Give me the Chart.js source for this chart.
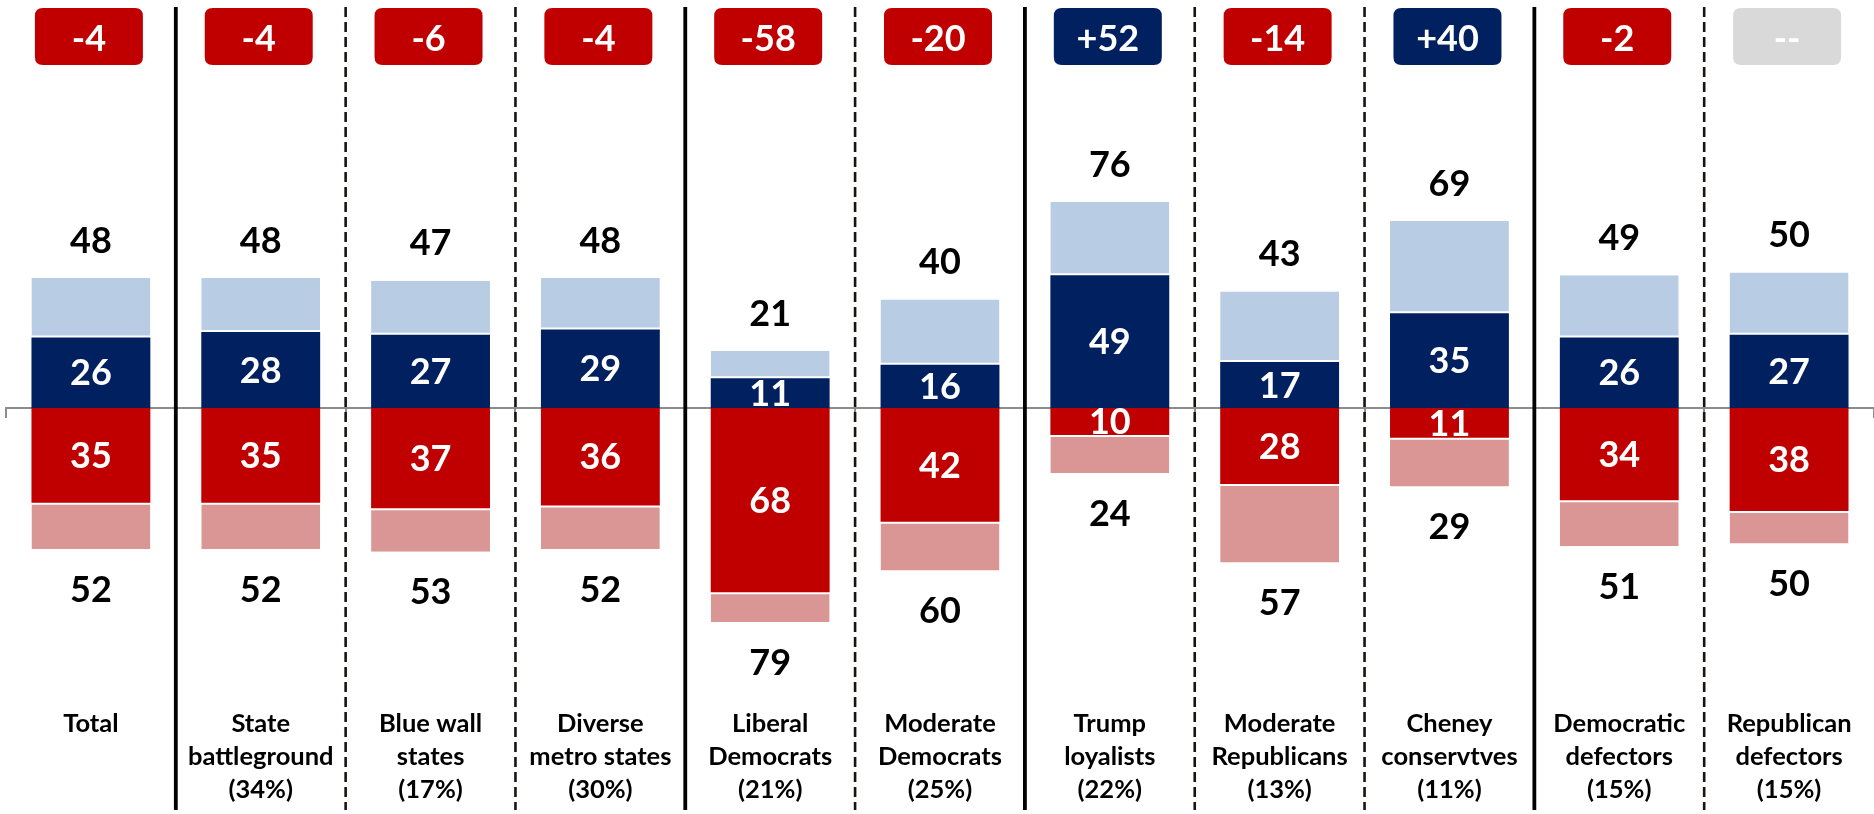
<!DOCTYPE html>
<html>
<head>
<meta charset="utf-8">
<script src="https://cdn.jsdelivr.net/npm/chart.js@4.4.0/dist/chart.umd.min.js"></script>
<style>
    html, body { margin: 0; padding: 0; background: #fff; }
    #wrap { width: 1874px; height: 814px; position: relative; }
</style>
</head>
<body>
<div id="wrap"><canvas id="netChart"></canvas></div>
<script>
// --- Data ---
const categories = [
    ['Total'],
    ['State', 'battleground', '(34%)'],
    ['Blue wall', 'states', '(17%)'],
    ['Diverse', 'metro states', '(30%)'],
    ['Liberal', 'Democrats', '(21%)'],
    ['Moderate', 'Democrats', '(25%)'],
    ['Trump', 'loyalists', '(22%)'],
    ['Moderate', 'Republicans', '(13%)'],
    ['Cheney', 'conservtves', '(11%)'],
    ['Democratic', 'defectors', '(15%)'],
    ['Republican', 'defectors', '(15%)']
];
const blueStrong = [26, 28, 27, 29, 11, 16, 49, 17, 35, 26, 27];
const blueTotal  = [48, 48, 47, 48, 21, 40, 76, 43, 69, 49, 50];
const redStrong  = [35, 35, 37, 36, 68, 42, 10, 28, 11, 34, 38];
const redTotal   = [52, 52, 53, 52, 79, 60, 24, 57, 29, 51, 50];
const netLabels  = ['-4', '-4', '-6', '-4', '-58', '-20', '+52', '-14', '+40', '-2', '--'];

// divider after each column except the last
const dividerStyles = ['solid', 'dashed', 'dashed', 'solid', 'dashed', 'solid', 'dashed', 'dashed', 'solid', 'dashed'];

const NAVY = '#002060', LIGHT_BLUE = '#B8CCE4', RED = '#C00000', PINK = '#DA9694', GREY = '#D9D9D9';
const NUM_FONT = 'bold 36px Lato';
const CAT_FONT = 'bold 25.5px Lato';

function roundRect(ctx, x, y, w, h, r) {
    ctx.beginPath();
    ctx.moveTo(x + r, y);
    ctx.lineTo(x + w - r, y);
    ctx.quadraticCurveTo(x + w, y, x + w, y + r);
    ctx.lineTo(x + w, y + h - r);
    ctx.quadraticCurveTo(x + w, y + h, x + w - r, y + h);
    ctx.lineTo(x + r, y + h);
    ctx.quadraticCurveTo(x, y + h, x, y + h - r);
    ctx.lineTo(x, y + r);
    ctx.quadraticCurveTo(x, y, x + r, y);
    ctx.closePath();
}

// --- Labels, dividers and net badges ---
const overlayPlugin = {
    id: 'overlay',
    afterDatasetsDraw(chart) {
        const ctx = chart.ctx;
        const navy = chart.getDatasetMeta(0).data;
        const light = chart.getDatasetMeta(1).data;
        const red = chart.getDatasetMeta(2).data;
        const pink = chart.getDatasetMeta(3).data;

        ctx.save();
        ctx.font = NUM_FONT;
        ctx.textAlign = 'center';
        ctx.textBaseline = 'middle';
        categories.forEach((c, i) => {
            ctx.fillStyle = '#fff';
            ctx.fillText(blueStrong[i], navy[i].x, (navy[i].y + navy[i].base) / 2 + 1);
            ctx.fillText(redStrong[i], red[i].x, (red[i].y + red[i].base) / 2 + 1);
            ctx.fillStyle = '#000';
            ctx.fillText(blueTotal[i], light[i].x, light[i].y - 37);
            ctx.fillText(redTotal[i], pink[i].x, pink[i].y + 41);
        });
        ctx.restore();
    },
    afterDraw(chart) {
        const ctx = chart.ctx;
        const xs = chart.scales.x;
        const catW = xs.getPixelForValue(1) - xs.getPixelForValue(0);

        ctx.save();
        // dividers
        dividerStyles.forEach((style, i) => {
            const px = xs.getPixelForValue(i) + catW / 2;
            ctx.beginPath();
            if (style === 'solid') {
                ctx.setLineDash([]);
                ctx.lineWidth = 3.8;
                ctx.strokeStyle = '#000';
            } else {
                ctx.setLineDash([10, 5]);
                ctx.lineWidth = 2.6;
                ctx.strokeStyle = '#1a1410';
            }
            ctx.moveTo(px, 7);
            ctx.lineTo(px, 810);
            ctx.stroke();
        });
        ctx.setLineDash([]);

        // category labels
        ctx.font = CAT_FONT;
        ctx.fillStyle = '#000';
        ctx.textAlign = 'center';
        ctx.textBaseline = 'middle';
        categories.forEach((lines, i) => {
            const cx = xs.getPixelForValue(i);
            lines.forEach((t, j) => ctx.fillText(t, cx, 724 + j * 33));
        });

        // net badges
        netLabels.forEach((lbl, i) => {
            const cx = xs.getPixelForValue(i) - 2;
            const diff = blueTotal[i] - redTotal[i];
            ctx.fillStyle = lbl === '--' ? GREY : (diff > 0 ? NAVY : RED);
            roundRect(ctx, cx - 54, 8, 108, 57, 8);
            ctx.fill();
            ctx.font = NUM_FONT;
            ctx.fillStyle = '#fff';
            ctx.fillText(lbl, cx, 39);
        });
        ctx.restore();
    }
};

const ctx = document.getElementById('netChart').getContext('2d');
window.netChart = new Chart(ctx, {
    type: 'bar',
    data: {
        labels: categories,
        datasets: [
            {
                label: 'Strong blue',
                data: blueStrong,
                backgroundColor: NAVY,
                borderWidth: 0
            },
            {
                label: 'Lean blue',
                data: blueTotal.map((t, i) => t - blueStrong[i]),
                backgroundColor: LIGHT_BLUE,
                borderColor: '#fff',
                borderWidth: { top: 0, right: 0, bottom: 2, left: 0 },
                borderSkipped: false
            },
            {
                label: 'Strong red',
                data: redStrong.map(v => -v),
                backgroundColor: RED,
                borderWidth: 0
            },
            {
                label: 'Lean red',
                data: redTotal.map((t, i) => -(t - redStrong[i])),
                backgroundColor: PINK,
                borderColor: '#fff',
                borderWidth: { top: 2, right: 0, bottom: 0, left: 0 },
                borderSkipped: false
            }
        ]
    },
    options: {
        responsive: true,
        maintainAspectRatio: false,
        animation: false,
        datasets: { bar: { barPercentage: 0.7, categoryPercentage: 1.0 } },
        layout: { padding: { top: 137, bottom: 135, left: 6, right: -5 } },
        plugins: { legend: { display: false }, tooltip: { enabled: false } },
        scales: {
            x: {
                stacked: true,
                position: { y: 0 },
                z: 1,
                ticks: { display: false },
                grid: {
                    offset: true,
                    drawOnChartArea: false,
                    drawTicks: true,
                    tickLength: 9,
                    color: '#8c8c8c',
                    lineWidth: 2
                },
                border: { display: true, color: '#8c8c8c', width: 2 }
            },
            y: {
                stacked: true,
                display: false,
                min: -100,
                max: 100
            }
        }
    },
    plugins: [overlayPlugin]
});
</script>
</body>
</html>
